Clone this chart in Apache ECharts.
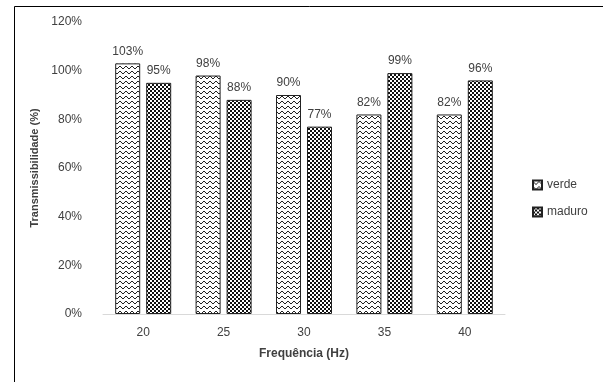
<!DOCTYPE html>
<html><head><meta charset="utf-8">
<script src="https://cdn.jsdelivr.net/npm/echarts@6/dist/echarts.min.js"></script>
<style>html,body{margin:0;padding:0;background:#fff}#c{width:603px;height:382px}</style>
</head><body><div id="c"></div>
<script>
const categories = ['20', '25', '30', '35', '40'];
const verde = [103, 98, 90, 82, 82];
const maduro = [95, 88, 77, 99, 96];
const yTicks = [0, 20, 40, 60, 80, 100, 120];

function wavePattern() {
  const c = document.createElement('canvas');
  c.width = 6; c.height = 5;
  const g = c.getContext('2d');
  g.fillStyle = '#fff'; g.fillRect(0, 0, 6, 5);
  g.strokeStyle = '#222'; g.lineWidth = 1;
  g.beginPath();
  g.moveTo(0, 1); g.lineTo(3, 4); g.lineTo(6, 1);
  g.stroke();
  return c;
}
function checkPattern() {
  const c = document.createElement('canvas');
  c.width = 4; c.height = 4;
  const g = c.getContext('2d');
  g.fillStyle = '#fff'; g.fillRect(0, 0, 4, 4);
  g.fillStyle = '#111';
  g.fillRect(0, 0, 2, 2); g.fillRect(2, 2, 2, 2);
  return c;
}

const chart = echarts.init(document.getElementById('c'), null, {renderer: 'canvas'});
const font = 'Liberation Sans';
chart.setOption({
  animation: false,
  backgroundColor: '#fff',
  graphic: [{
    type: 'rect', shape: {x: 14.5, y: 6.5, width: 700, height: 500},
    style: {fill: 'none', stroke: '#000', lineWidth: 1}, silent: true
  }],
  grid: {left: 103, right: 98, top: 22, bottom: 68},
  legend: {
    orient: 'vertical', left: 527, top: 174, itemGap: 15,
    itemWidth: 9, itemHeight: 9, icon: 'rect',
    textStyle: {fontFamily: font, fontSize: 12, color: '#404040'},
    data: ['verde', 'maduro']
  },
  xAxis: {
    type: 'category', data: categories,
    axisTick: {show: false},
    axisLine: {lineStyle: {color: '#d9d9d9'}},
    axisLabel: {fontFamily: font, fontSize: 12, color: '#404040', margin: 13},
    name: 'Frequência (Hz)', nameLocation: 'middle', nameGap: 34,
    nameTextStyle: {fontFamily: font, fontSize: 12, fontWeight: 'bold', color: '#404040'}
  },
  yAxis: {
    type: 'value', min: 0, max: 120, interval: 20,
    splitLine: {show: false},
    axisLine: {show: false}, axisTick: {show: false},
    axisLabel: {fontFamily: font, fontSize: 12, color: '#404040', margin: 21,
      formatter: v => yTicks.includes(v) ? v + '%' : ''},
    name: 'Transmissibilidade (%)', nameLocation: 'middle', nameGap: 54,
    nameTextStyle: {fontFamily: font, fontSize: 11, fontWeight: 'bold', color: '#404040'}
  },
  series: [
    {
      name: 'verde', type: 'bar', data: verde, barWidth: 25, barGap: '24%',
      itemStyle: {color: {image: wavePattern(), repeat: 'repeat'}, borderColor: '#222', borderWidth: 1},
      label: {show: true, position: 'top', distance: 6, formatter: '{c}%',
        fontFamily: font, fontSize: 12, color: '#404040'}
    },
    {
      name: 'maduro', type: 'bar', data: maduro, barWidth: 25,
      itemStyle: {color: {image: checkPattern(), repeat: 'repeat'}, borderColor: '#222', borderWidth: 1},
      label: {show: true, position: 'top', distance: 6, formatter: '{c}%',
        fontFamily: font, fontSize: 12, color: '#404040'}
    }
  ]
});
</script></body></html>
